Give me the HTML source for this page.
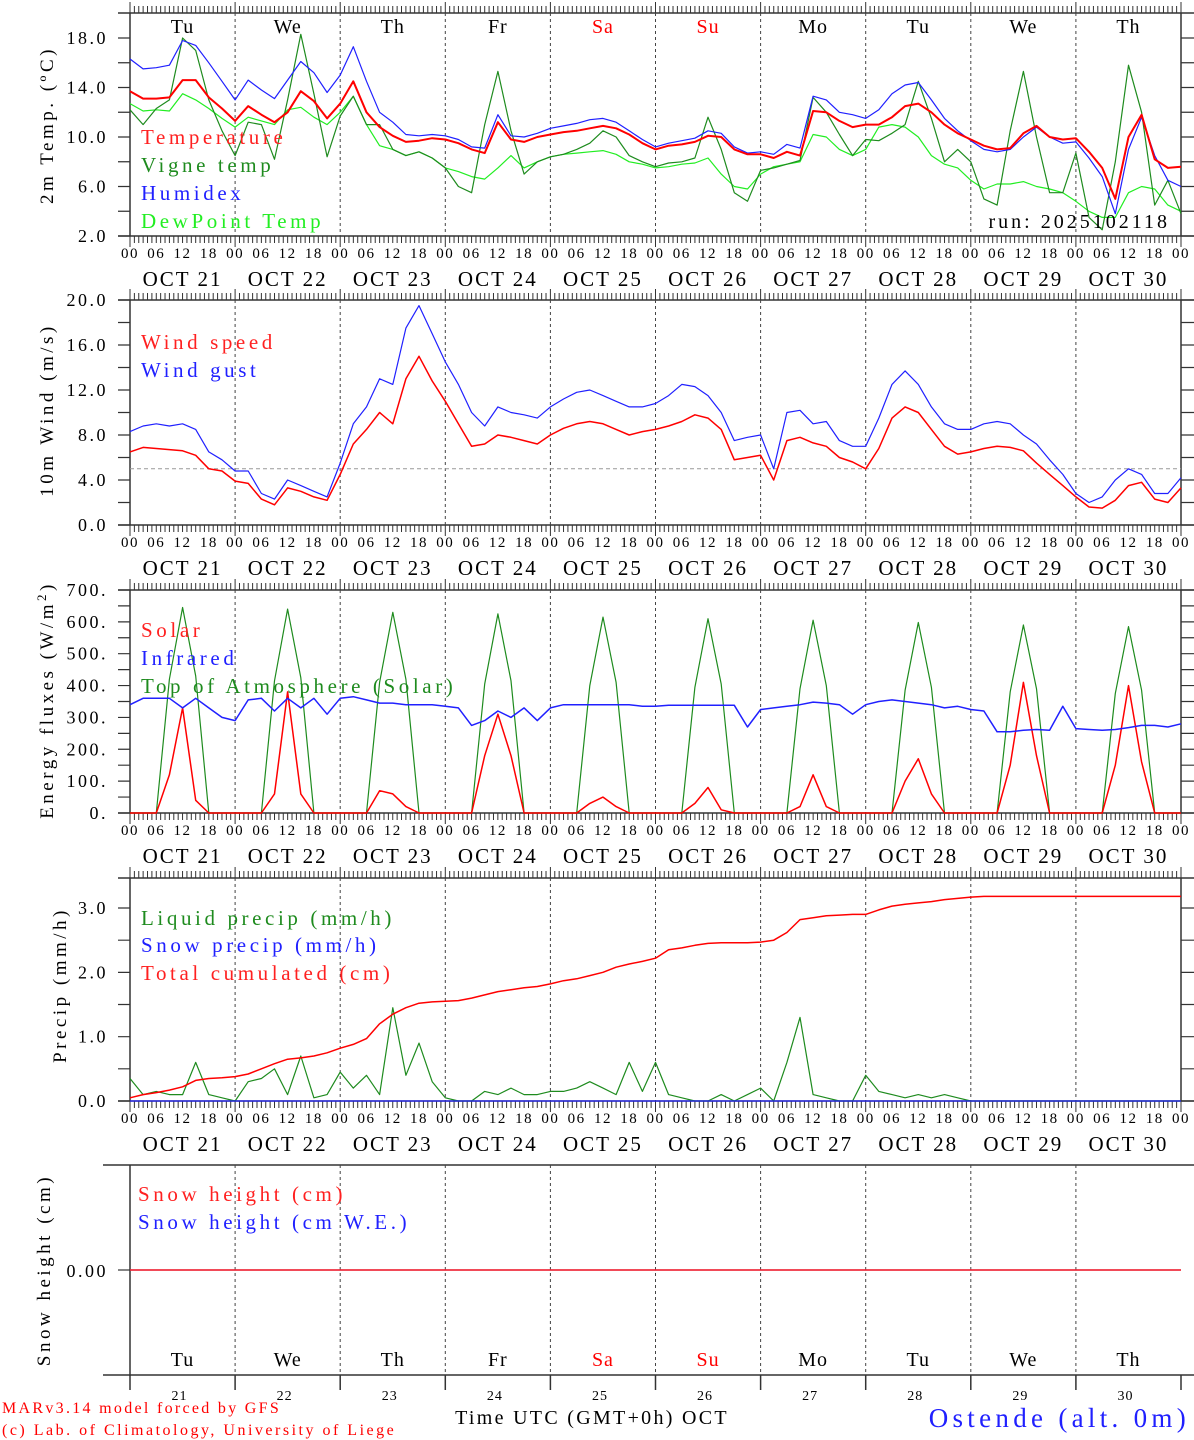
<!DOCTYPE html>
<html><head><meta charset="utf-8"><style>
html,body{margin:0;padding:0;background:#fff;}
svg{display:block;font-family:"Liberation Serif",serif;}
</style></head><body>
<svg id="chart" width="1194" height="1440" viewBox="0 0 1194 1440" xmlns="http://www.w3.org/2000/svg"></svg>
<script>
const dayNames=["Tu","We","Th","Fr","Sa","Su","Mo","Tu","We","Th"];
const dayDates=["21","22","23","24","25","26","27","28","29","30"];
const hourLabels=["00","06","12","18"];
// 3-hourly values from Oct 21 00 UTC to Oct 31 00 UTC (81 values)
const temperature=[13.7,13.1,13.1,13.2,14.6,14.6,13.2,12.3, 11.3,12.5,11.8,11.2,12.0,13.7,12.9,11.5, 12.7,14.5,12.0,10.8,10.1,9.6,9.7,9.9, 9.8,9.5,9.0,8.7,11.2,9.8,9.6,10.0, 10.2,10.4,10.5,10.7,10.9,10.7,10.2,9.5, 9.0,9.3,9.4,9.6,10.1,10.0,9.0,8.6, 8.6,8.3,8.8,8.5,12.1,12.0,11.3,10.8, 11.0,11.0,11.6,12.5,12.7,12.0,11.0,10.3, 9.8,9.3,9.0,9.1,10.3,10.9,10.0,9.8, 9.9,8.8,7.5,5.0,10.0,11.8,8.2,7.5, 7.6];
const vigneTemp=[12.2,11.0,12.3,13.0,18.0,17.0,13.0,10.5, 8.5,11.2,11.0,8.2,13.0,18.3,13.5,8.4, 11.7,13.3,11.0,11.0,9.0,8.5,8.8,8.3, 7.5,6.0,5.5,11.0,15.3,10.5,7.0,8.0, 8.4,8.6,9.0,9.5,10.5,10.0,8.5,8.0, 7.6,7.9,8.0,8.3,11.6,9.0,5.5,4.8, 7.3,7.5,7.8,8.1,13.2,12.0,10.2,8.5, 9.8,9.7,10.3,11.0,14.5,11.5,8.0,9.0, 8.0,5.0,4.5,10.5,15.3,10.0,5.5,5.5, 8.7,3.5,2.5,8.0,15.8,12.0,4.5,6.5, 3.8];
const humidex=[16.3,15.5,15.6,15.8,17.8,17.4,16.0,14.5, 13.0,14.6,13.8,13.1,14.6,16.1,15.2,13.6, 15.0,17.3,14.5,12.0,11.2,10.2,10.1,10.2, 10.1,9.8,9.2,9.1,11.8,10.1,10.0,10.3, 10.7,10.9,11.1,11.4,11.5,11.2,10.5,9.8, 9.2,9.5,9.7,9.9,10.5,10.3,9.2,8.7, 8.8,8.6,9.4,9.1,13.3,13.0,12.0,11.8, 11.5,12.2,13.5,14.2,14.4,13.0,11.5,10.5, 9.7,9.0,8.8,9.0,10.0,10.8,10.0,9.5, 9.6,8.3,6.8,3.8,9.0,11.6,8.5,6.5, 6.0];
const dewPoint=[12.7,12.1,12.2,12.1,13.5,13.0,12.3,11.5, 10.8,11.6,11.3,11.0,12.2,12.4,11.6,11.0, 12.0,13.3,11.0,9.3,9.0,8.5,8.8,8.3, 7.5,7.2,6.8,6.6,7.5,8.5,7.5,8.0, 8.4,8.6,8.7,8.8,8.9,8.6,8.0,7.8, 7.5,7.6,7.8,7.9,8.3,7.0,6.0,5.8, 7.0,7.6,7.8,8.0,10.2,10.0,9.0,8.5, 9.0,10.8,11.0,10.8,10.0,8.5,7.8,7.5, 6.5,5.8,6.2,6.2,6.4,6.0,5.8,5.5, 4.8,4.0,3.5,3.5,5.5,6.0,5.8,4.5, 4.0];
const windSpeed=[6.5,6.9,6.8,6.7,6.6,6.2,5.0,4.8, 3.9,3.7,2.3,1.8,3.3,3.0,2.5,2.2, 4.5,7.2,8.5,10.0,9.0,13.0,15.0,12.8, 11.0,9.0,7.0,7.2,8.0,7.8,7.5,7.2, 8.0,8.6,9.0,9.2,9.0,8.5,8.0,8.3, 8.5,8.8,9.2,9.8,9.5,8.5,5.8,6.0, 6.2,4.0,7.5,7.8,7.3,7.0,6.0,5.6, 5.0,6.8,9.5,10.5,10.0,8.5,7.0,6.3, 6.5,6.8,7.0,6.9,6.6,5.5,4.5,3.5, 2.5,1.6,1.5,2.2,3.5,3.8,2.3,2.0, 3.3];
const windGust=[8.3,8.8,9.0,8.8,9.0,8.5,6.5,5.8, 4.8,4.8,2.8,2.3,4.0,3.5,3.0,2.5, 5.5,9.0,10.5,13.0,12.5,17.5,19.5,17.0, 14.5,12.5,10.0,8.8,10.5,10.0,9.8,9.5, 10.5,11.2,11.8,12.0,11.5,11.0,10.5,10.5, 10.8,11.5,12.5,12.3,11.5,10.0,7.5,7.8, 8.0,5.0,10.0,10.2,9.0,9.2,7.5,7.0, 7.0,9.5,12.5,13.7,12.5,10.5,9.0,8.5, 8.5,9.0,9.2,9.0,8.0,7.2,5.8,4.5, 2.8,2.0,2.5,4.0,5.0,4.5,2.8,2.8, 4.2];
const solar=[0,0,0,120,330,40,0,0, 0,0,0,60,380,60,0,0, 0,0,0,70,60,20,0,0, 0,0,0,180,310,180,0,0, 0,0,0,30,50,20,0,0, 0,0,0,30,80,10,0,0, 0,0,0,20,120,20,0,0, 0,0,0,100,170,60,0,0, 0,0,0,150,410,180,0,0, 0,0,0,150,400,160,0,0, 0];
const infrared=[340,360,360,360,330,360,330,300, 290,355,360,320,360,330,360,310, 360,365,355,345,345,340,340,340, 335,330,275,290,320,300,330,290, 330,340,340,340,340,340,340,335, 335,338,338,338,338,338,338,270, 325,330,335,340,348,345,340,310, 340,350,355,350,345,340,330,335, 325,320,255,255,260,262,260,335, 265,262,260,262,268,275,275,270, 280];
const toaSolar=[0,0,0,420,645,430,0,0, 0,0,0,415,640,425,0,0, 0,0,0,410,630,420,0,0, 0,0,0,405,625,415,0,0, 0,0,0,400,615,410,0,0, 0,0,0,395,610,405,0,0, 0,0,0,390,605,400,0,0, 0,0,0,385,598,395,0,0, 0,0,0,380,590,390,0,0, 0,0,0,375,585,385,0,0, 0];
const liquidPrecip=[0.35,0.1,0.15,0.1,0.1,0.6,0.1,0.05, 0.0,0.3,0.35,0.5,0.1,0.7,0.05,0.1, 0.45,0.2,0.4,0.1,1.45,0.4,0.9,0.3, 0.05,0.0,0.0,0.15,0.1,0.2,0.1,0.1, 0.15,0.15,0.2,0.3,0.2,0.1,0.6,0.15, 0.6,0.1,0.05,0.0,0.0,0.1,0.0,0.1, 0.2,0.0,0.6,1.3,0.1,0.05,0.0,0.0, 0.4,0.15,0.1,0.05,0.1,0.05,0.1,0.05, 0,0,0,0,0,0,0,0, 0,0,0,0,0,0,0,0, 0];
const totalCumulated=[0.05,0.1,0.13,0.17,0.22,0.32,0.35,0.36, 0.38,0.42,0.5,0.58,0.65,0.67,0.7,0.75, 0.82,0.88,0.97,1.2,1.35,1.45,1.52,1.54, 1.55,1.56,1.6,1.65,1.7,1.73,1.76,1.78, 1.82,1.87,1.9,1.95,2.0,2.08,2.13,2.17, 2.22,2.35,2.38,2.42,2.45,2.46,2.46,2.46, 2.47,2.5,2.62,2.82,2.85,2.88,2.89,2.9, 2.9,2.97,3.03,3.06,3.08,3.1,3.13,3.15, 3.17,3.18,3.18,3.18,3.18,3.18,3.18,3.18, 3.18,3.18,3.18,3.18,3.18,3.18,3.18,3.18, 3.18];
const snowHeight=[0,0,0,0,0,0,0,0,0,0,0];

const NS="http://www.w3.org/2000/svg";
const svg=document.getElementById('chart');
const X0=130,X1=1181,HOURS=240,STEP=3;
function xScale(h){return X0+h*(X1-X0)/HOURS;}
function mk(tag,attrs,parent){const e=document.createElementNS(NS,tag);for(const k in attrs)e.setAttribute(k,attrs[k]);(parent||svg).appendChild(e);return e;}
function txt(s,attrs,parent){const e=mk('text',attrs,parent);e.textContent=s;return e;}

function frame(g,top,bot,withHourTicks){
  const l1=mk('line',{x1:X0,y1:top,x2:X0,y2:bot,stroke:'#333','stroke-width':1.5},g);
  
  mk('line',{x1:X1,y1:top,x2:X1,y2:bot,stroke:'#333','stroke-width':1.5},g);
  mk('line',{x1:118,y1:top,x2:1194,y2:top,stroke:'#333','stroke-width':1.5},g);
  mk('line',{x1:118,y1:bot,x2:1194,y2:bot,stroke:'#333','stroke-width':1.5},g);
  let d='';
  for(let i=1;i<10;i++){const x=xScale(i*24);d+=`M${x},${top}V${bot}`;}
  const dl=mk('path',{d:d,stroke:'#444','stroke-width':1,'stroke-dasharray':'3,3',fill:'none'},g);
  
  if(withHourTicks){
    let t='';
    for(let h=0;h<=HOURS;h++){const x=xScale(h);const big=h%24===0;
      t+=`M${x},${top}v${big?-11:-7}M${x},${bot}v${big?11:7}`;}
    mk('path',{d:t,stroke:'#333','stroke-width':1,fill:'none'},g);
    for(let h=0;h<=HOURS;h+=6){
      txt(hourLabels[(h/6)%4],{x:xScale(h),y:bot+22,'font-size':15,'letter-spacing':1.5,'text-anchor':'middle',fill:'#000'},g);
    }
    for(let i=0;i<10;i++){
      const t2=txt('OCT '+dayDates[i],{x:xScale(i*24+12),y:bot+50,'font-size':21,'letter-spacing':2,'text-anchor':'middle',fill:'#000'},g);
      
    }
  }
}
function yAxis(g,yf,ticks,minor,fmt){
  let d='';
  for(const v of minor){const y=yf(v);d+=`M118,${y}H${X0}M${X1},${y}H1194`;}
  for(const v of ticks){const y=yf(v);d+=`M118,${y}H${X0}M${X1},${y}H1194`;
    const t=txt(fmt(v),{x:108,y:y+6,'font-size':18,'letter-spacing':2.5,'text-anchor':'end',fill:'#000'},g);
    }
  mk('path',{d:d,stroke:'#333','stroke-width':1.2,fill:'none'},g);
}
function yTitle(g,s,x,y){
  const t=txt(s,{x:x,y:y,'font-size':19,'letter-spacing':3.5,'text-anchor':'middle',fill:'#000',transform:`rotate(-90 ${x} ${y})`},g);
  
  return t;
}
function series(g,vals,yf,color,w,name,top,bot){
  let d='';
  vals.forEach((v,i)=>{let y=yf(v);if(top!==undefined)y=Math.max(top,Math.min(bot,y));d+=(i?'L':'M')+xScale(i*STEP).toFixed(1)+','+y.toFixed(1);});
  const p=mk('path',{d:d,stroke:color,'stroke-width':w,fill:'none','stroke-linejoin':'round'},g);
  
  return p;
}
function legend(g,s,x,y,color,name){
  const t=txt(s,{x:x,y:y,'font-size':21,'letter-spacing':3.6,fill:color},g);
  
}

// Panel 1: temperature
const g1=mk('g',{});
const y1=v=>236-(v-2)*12.375;
frame(g1,13,236,true);
yAxis(g1,y1,[2,6,10,14,18],[4,8,12,16],v=>v.toFixed(1));
yTitle(g1,'2m Temp. (ºC)',53,125);
for(let i=0;i<10;i++){const t=txt(dayNames[i],{x:xScale(i*24+12),y:33,'font-size':20,'letter-spacing':1,'text-anchor':'middle',fill:(i===4||i===5)?'#ff0000':'#000'},g1);
  }
series(g1,dewPoint,y1,'#22ee22',1.2,'dewpoint-line',13,236);
series(g1,vigneTemp,y1,'#1e8b1e',1.2,'vigne-temp-line',13,236);
series(g1,humidex,y1,'#2020ff',1.2,'humidex-line',13,236);
series(g1,temperature,y1,'#ff0000',2,'temperature-line',13,236);
legend(g1,'Temperature',141,144,'#ff2020','legend-temperature');
legend(g1,'Vigne temp',141,172,'#1e8b1e','legend-vigne-temp');
legend(g1,'Humidex',141,200,'#2020ff','legend-humidex');
legend(g1,'DewPoint Temp',141,228,'#22ee22','legend-dewpoint');
const rl=txt('run: 2025102118',{x:1170,y:228,'font-size':20,'letter-spacing':3,'text-anchor':'end',fill:'#000'},g1);


// Panel 2: wind
const g2=mk('g',{});
const y2=v=>525-v*11.25;
frame(g2,300,525,true);
yAxis(g2,y2,[0,4,8,12,16,20],[2,6,10,14,18],v=>v.toFixed(1));
yTitle(g2,'10m Wind (m/s)',53,410);
mk('line',{x1:X0,y1:y2(5),x2:X1,y2:y2(5),stroke:'#999','stroke-width':1,'stroke-dasharray':'4,3'},g2);
series(g2,windGust,y2,'#2020ff',1.2,'wind-gust-line');
series(g2,windSpeed,y2,'#ff0000',1.5,'wind-speed-line');
legend(g2,'Wind speed',141,349,'#ff2020','legend-wind-speed');
legend(g2,'Wind gust',141,377,'#2020ff','legend-wind-gust');

// Panel 3: energy
const g3=mk('g',{});
const y3=v=>813-v*0.3186;
frame(g3,590,813,true);
yAxis(g3,y3,[0,100,200,300,400,500,600,700],[50,150,250,350,450,550,650],v=>v+'.');
const et=yTitle(g3,'',53,700);et.textContent='Energy fluxes (W/m';
const sup=mk('tspan',{'baseline-shift':'super','font-size':13},et);sup.textContent='2';
const cl=mk('tspan',{},et);cl.textContent=')';
series(g3,toaSolar,y3,'#1e8b1e',1.2,'toa-solar-line');
series(g3,solar,y3,'#ff0000',1.5,'solar-line');
series(g3,infrared,y3,'#2020ff',1.5,'infrared-line');
legend(g3,'Solar',141,637,'#ff2020','legend-solar');
legend(g3,'Infrared',141,665,'#2020ff','legend-infrared');
legend(g3,'Top of Atmosphere (Solar)',141,693,'#1e8b1e','legend-toa');

// Panel 4: precip
const g4=mk('g',{});
const y4=v=>1101-v*64.33;
frame(g4,878,1101,true);
yAxis(g4,y4,[0,1,2,3],[0.5,1.5,2.5],v=>v.toFixed(1));
yTitle(g4,'Precip (mm/h)',66,985);
series(g4,liquidPrecip,y4,'#1e8b1e',1.2,'liquid-precip-line');
series(g4,liquidPrecip.map(()=>0),y4,'#2020ff',1.2,'snow-precip-line');
series(g4,totalCumulated,y4,'#ff0000',1.5,'total-cumulated-line');
legend(g4,'Liquid precip (mm/h)',141,925,'#1e8b1e','legend-liquid-precip');
legend(g4,'Snow precip (mm/h)',141,952,'#2020ff','legend-snow-precip');
legend(g4,'Total cumulated (cm)',141,980,'#ff2020','legend-total-cumulated');

// Panel 5: snow
const g5=mk('g',{});
const y5=v=>1270-v*100;
mk('line',{x1:X0,y1:1165,x2:X0,y2:1376,stroke:'#333','stroke-width':1.5},g5);
mk('line',{x1:103,y1:1165,x2:1194,y2:1165,stroke:'#333','stroke-width':1.5},g5);
mk('line',{x1:103,y1:1375,x2:1194,y2:1375,stroke:'#333','stroke-width':1.5},g5);
let dd='',tk='';
for(let i=1;i<10;i++){const x=xScale(i*24);dd+=`M${x},1165V1375`;}
for(let i=0;i<=10;i++){const x=xScale(i*24);tk+=`M${x},1375v15`;}
mk('path',{d:dd,stroke:'#444','stroke-width':1,'stroke-dasharray':'3,3',fill:'none'},g5);
mk('path',{d:tk,stroke:'#333','stroke-width':1.5,fill:'none'},g5);
mk('line',{x1:118,y1:1270,x2:X0,y2:1270,stroke:'#333','stroke-width':1.2},g5);
const zl=txt('0.00',{x:108,y:1277,'font-size':18,'letter-spacing':2.5,'text-anchor':'end',fill:'#000'},g5);

yTitle(g5,'Snow height (cm)',50,1270);
const swe=mk('path',{d:snowHeight.map((v,i)=>(i?'L':'M')+xScale(i*24)+','+y5(0)).join(''),stroke:'#2020ff','stroke-width':1.2,fill:'none'},g5);

const sh=mk('path',{d:snowHeight.map((v,i)=>(i?'L':'M')+xScale(i*24)+','+y5(v)).join(''),stroke:'#ff2020','stroke-width':1.5,fill:'none'},g5);

legend(g5,'Snow height (cm)',138,1201,'#ff2020','legend-snow-height');
legend(g5,'Snow height (cm W.E.)',138,1229,'#2020ff','legend-snow-we');
for(let i=0;i<10;i++){
  const t=txt(dayNames[i],{x:xScale(i*24+12),y:1366,'font-size':20,'letter-spacing':1,'text-anchor':'middle',fill:(i===4||i===5)?'#ff0000':'#000'},g5);
  
  const t2=txt(dayDates[i],{x:xScale(i*24+12)-3,y:1400,'font-size':14,'letter-spacing':1,'text-anchor':'middle',fill:'#000'},g5);
  
}
const xt=txt('Time UTC (GMT+0h) OCT',{x:592,y:1424,'font-size':20,'letter-spacing':2.3,'text-anchor':'middle',fill:'#000'});

const c1=txt('MARv3.14 model forced by GFS',{x:2,y:1413,'font-size':16,'letter-spacing':2.3,fill:'#ff0000'});

const c2=txt('(c) Lab. of Climatology, University of Liege',{x:2,y:1435,'font-size':16,'letter-spacing':2.5,fill:'#ff0000'});

const st=txt('Ostende (alt. 0m)',{x:1190,y:1427,'font-size':27,'letter-spacing':4.3,'text-anchor':'end',fill:'#2020ff'});

</script>
</body></html>
